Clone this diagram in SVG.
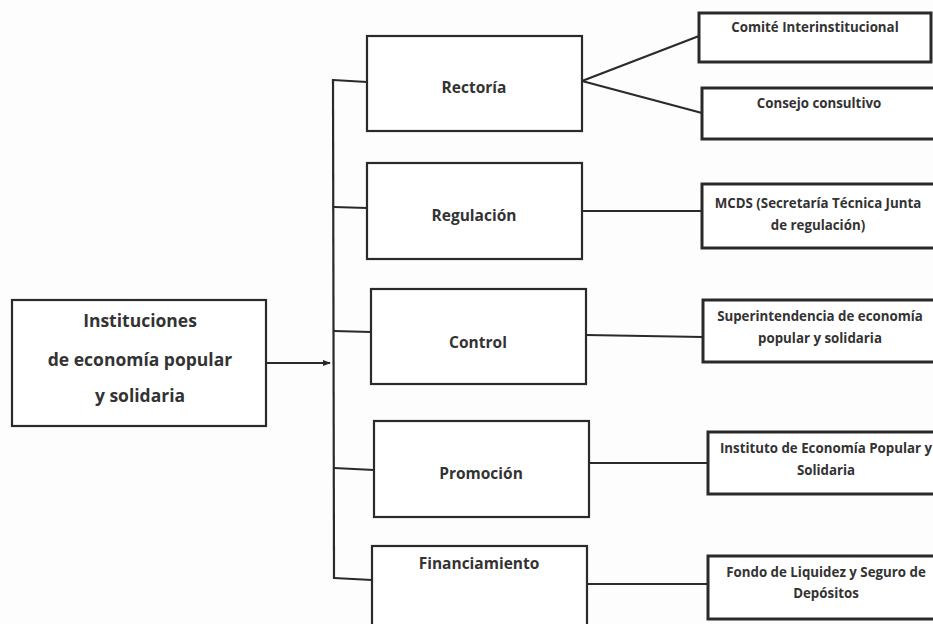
<svg xmlns="http://www.w3.org/2000/svg" width="933" height="624" viewBox="0 0 933 624">
<style>
.bg{fill:#fdfdfd}
.box{fill:#ffffff;stroke:#2a2a2a;stroke-width:2.2}
.rbox{fill:#ffffff;stroke:#2a2a2a;stroke-width:3}
.ln{fill:none;stroke:#2a2a2a;stroke-width:2.2}
text{font-family:"Open Sans","Liberation Sans",sans-serif;font-weight:700;fill:#333333;text-anchor:middle}
.t1{font-size:17.5px}
.t2{font-size:15.5px}
.t3{font-size:13.3px}
</style>
<defs>
<marker id="ah" markerWidth="8" markerHeight="8" refX="7" refY="4" orient="auto" markerUnits="userSpaceOnUse">
<path d="M0,1 L8,4 L0,7 Z" fill="#2a2a2a"/>
</marker>
</defs>
<rect class="bg" x="0" y="0" width="933" height="624"/>
<g id="connectors">
<line class="ln" x1="333" y1="79" x2="334" y2="579"/>
<line class="ln" x1="333" y1="80" x2="367" y2="82"/>
<line class="ln" x1="334" y1="207" x2="367" y2="208"/>
<line class="ln" x1="334" y1="331" x2="371" y2="332"/>
<line class="ln" x1="334" y1="468" x2="374" y2="470"/>
<line class="ln" x1="334" y1="578" x2="372" y2="580"/>
<line class="ln" x1="266" y1="363" x2="330" y2="363" marker-end="url(#ah)"/>
<line class="ln" x1="582" y1="81" x2="699" y2="36"/>
<line class="ln" x1="582" y1="81" x2="702" y2="113"/>
<line class="ln" x1="582" y1="211" x2="702" y2="211"/>
<line class="ln" x1="586" y1="335" x2="703" y2="337"/>
<line class="ln" x1="587" y1="463" x2="708" y2="463"/>
<line class="ln" x1="587" y1="584" x2="708" y2="584"/>
</g>
<g id="n-main">
<rect class="box" x="12" y="300" width="254" height="126"/>
<text class="t1" x="140" y="327">Instituciones</text>
<text class="t1" x="140" y="366">de economía popular</text>
<text class="t1" x="140" y="402">y solidaria</text>
</g>
<g id="n-rectoria">
<rect class="box" x="367" y="36" width="215" height="95"/>
<text class="t2" x="474" y="93">Rectoría</text>
</g>
<g id="n-regulacion">
<rect class="box" x="367" y="163" width="215" height="96"/>
<text class="t2" x="474" y="221">Regulación</text>
</g>
<g id="n-control">
<rect class="box" x="371" y="289" width="215" height="95"/>
<text class="t2" x="478" y="348">Control</text>
</g>
<g id="n-promocion">
<rect class="box" x="374" y="421" width="215" height="96"/>
<text class="t2" x="481" y="479">Promoción</text>
</g>
<g id="n-financiamiento">
<rect class="box" x="372" y="546" width="215" height="100"/>
<text class="t2" x="479" y="569">Financiamiento</text>
</g>
<g id="n-comite">
<rect class="rbox" x="699" y="13" width="232" height="49"/>
<text class="t3" x="815" y="32">Comité Interinstitucional</text>
</g>
<g id="n-consejo">
<rect class="rbox" x="702" y="88" width="240" height="51"/>
<text class="t3" x="819" y="108">Consejo consultivo</text>
</g>
<g id="n-mcds">
<rect class="rbox" x="702" y="184" width="240" height="64"/>
<text class="t3" x="818" y="208">MCDS (Secretaría Técnica Junta</text>
<text class="t3" x="818" y="230">de regulación)</text>
</g>
<g id="n-super">
<rect class="rbox" x="703" y="300" width="240" height="62"/>
<text class="t3" x="820" y="321">Superintendencia de economía</text>
<text class="t3" x="820" y="343">popular y solidaria</text>
</g>
<g id="n-instituto">
<rect class="rbox" x="708" y="432" width="240" height="62"/>
<text class="t3" x="826" y="453">Instituto de Economía Popular y</text>
<text class="t3" x="826" y="475">Solidaria</text>
</g>
<g id="n-fondo">
<rect class="rbox" x="708" y="556" width="240" height="63"/>
<text class="t3" x="826" y="577">Fondo de Liquidez y Seguro de</text>
<text class="t3" x="826" y="598">Depósitos</text>
</g>
</svg>
